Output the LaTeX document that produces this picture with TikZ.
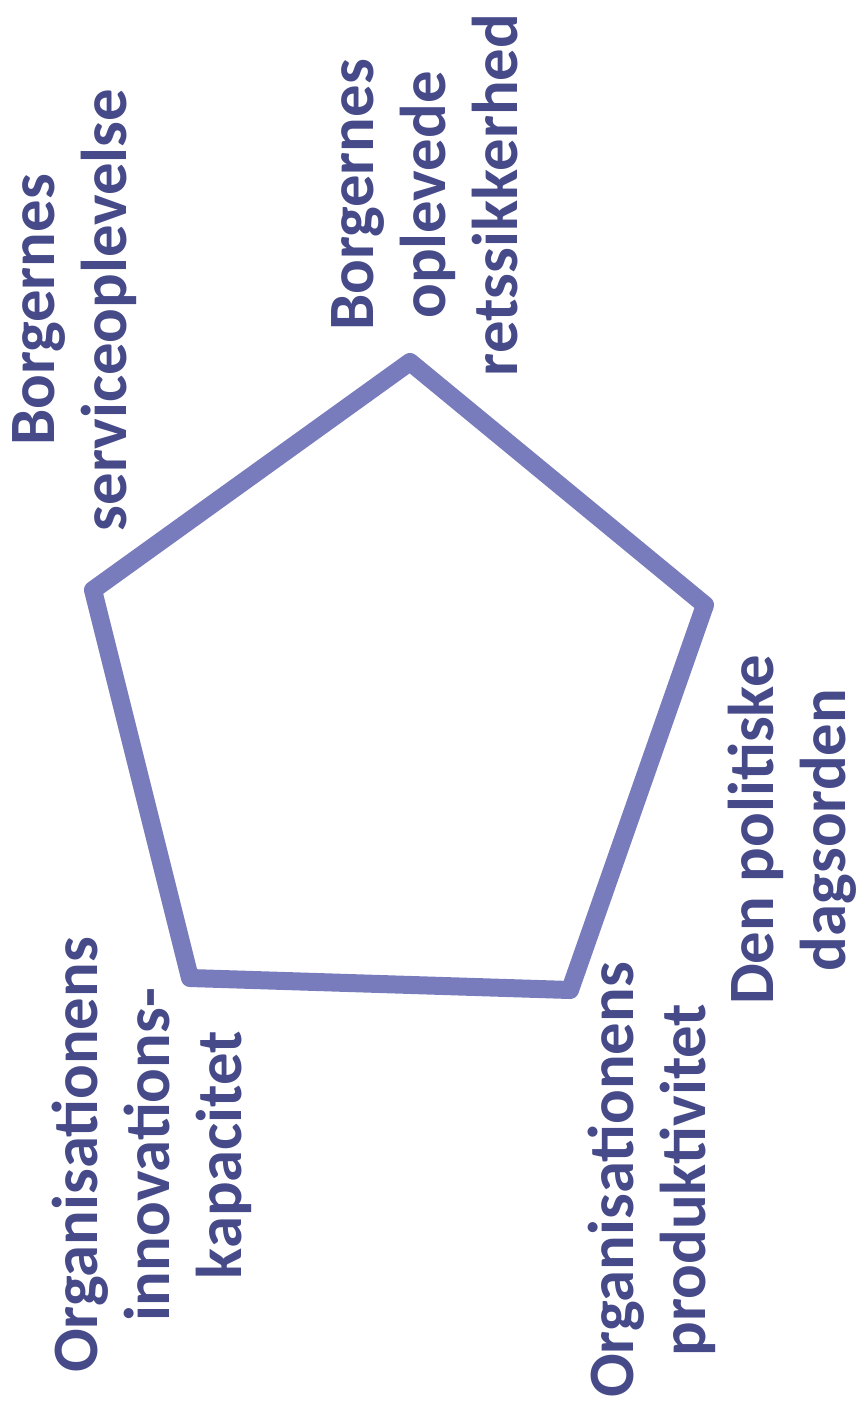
\documentclass[tikz,border=0pt]{standalone}
\usepackage{fontspec}
\setmainfont{Carlito}
\definecolor{txtc}{RGB}{70,74,136}
\definecolor{penc}{RGB}{120,124,188}
\begin{document}
\begin{tikzpicture}[x=0.01cm,y=-0.01cm,
  lbl/.style={rotate=90, align=center, text=txtc, font=\fontsize{18.4pt}{20.5pt}\selectfont\bfseries, inner sep=0pt},
  pent/.style={draw=penc, line width=0.18cm, line join=round}]
\useasboundingbox (0,0) rectangle (862,1406);
\coordinate (A) at (410,362);
\coordinate (B) at (705,605);
\coordinate (C) at (570,990);
\coordinate (D) at (190,978);
\coordinate (E) at (93,590);
\draw[pent] (A) -- (B) -- (C) -- (D) -- (E) -- cycle;
\node[lbl] (l1) at (75,310) {Borgernes\\serviceoplevelse};
\node[lbl] (l2) at (425,195) {Borgernes\\oplevede\\retssikkerhed};
\node[lbl] (l3) at (792,830) {Den politiske\\dagsorden};
\node[lbl] (l4) at (652,1180) {Organisationens\\produktivitet};
\node[lbl] (l5) at (152,1155) {Organisationens\\innovations-\\kapacitet};
\end{tikzpicture}
\end{document}
